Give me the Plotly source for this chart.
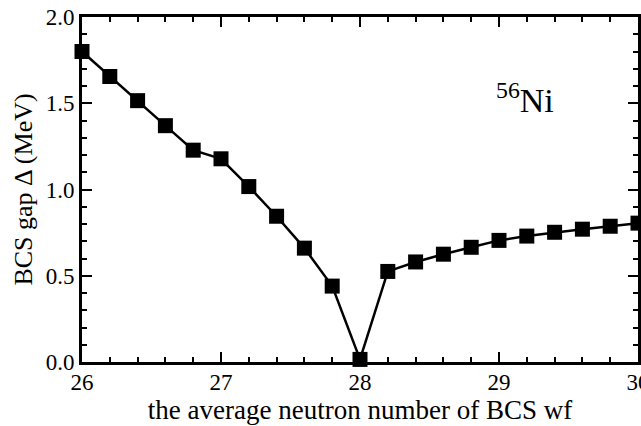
import plotly.graph_objects as go

x_vals = [26.0, 26.2, 26.4, 26.6, 26.8, 27.0, 27.2, 27.4, 27.6, 27.8, 28.0,
          28.2, 28.4, 28.6, 28.8, 29.0, 29.2, 29.4, 29.6, 29.8, 30.0]
gap_vals = [1.80, 1.655, 1.515, 1.37, 1.228, 1.178, 1.017, 0.845, 0.66, 0.44, 0.015,
            0.525, 0.58, 0.625, 0.665, 0.705, 0.73, 0.752, 0.77, 0.787, 0.805]

x_ticks = [26, 27, 28, 29, 30]
y_ticks = [0.0, 0.5, 1.0, 1.5, 2.0]
y_ticklabels = ["0.0", "0.5", "1.0", "1.5", "2.0"]

font_family = "Liberation Serif"

fig = go.Figure()
fig.add_trace(go.Scatter(
    x=x_vals, y=gap_vals, mode="lines+markers",
    line=dict(color="black", width=2.5),
    marker=dict(symbol="square", size=15, color="black"),
    cliponaxis=False, showlegend=False,
))

axis_common = dict(
    showline=True, linecolor="black", linewidth=3, mirror="allticks",
    ticks="inside", ticklen=10, tickwidth=2, tickcolor="black",
    showgrid=False, zeroline=False, automargin=False,
    tickfont=dict(family=font_family, size=23, color="black"),
    ticklabeloverflow="allow",
)

fig.update_xaxes(
    range=[26, 30], tickvals=x_ticks,
    minor=dict(ticks="inside", ticklen=5, tickwidth=1.5, tickcolor="black", dtick=0.2, tick0=26),
    title=dict(text="the average neutron number of BCS wf",
               font=dict(family=font_family, size=27, color="black"), standoff=2),
    ticklabelstandoff=-3,
    **axis_common,
)
fig.update_yaxes(
    range=[0, 2.0], tickvals=y_ticks, ticktext=y_ticklabels,
    minor=dict(ticks="inside", ticklen=5, tickwidth=1.5, tickcolor="black", dtick=0.1, tick0=0),
    title=dict(text="BCS gap Δ (MeV)",
               font=dict(family=font_family, size=26, color="black"), standoff=6),
    **axis_common,
)

fig.add_annotation(
    x=29.19, y=1.53, xref="x", yref="y", showarrow=False,
    text="<sup>56</sup>Ni",
    font=dict(family=font_family, size=34, color="black"),
)

fig.update_layout(
    width=641, height=426,
    margin=dict(l=82, r=3, t=17, b=64),
    plot_bgcolor="white", paper_bgcolor="white",
)

fig.write_html("out.html")
